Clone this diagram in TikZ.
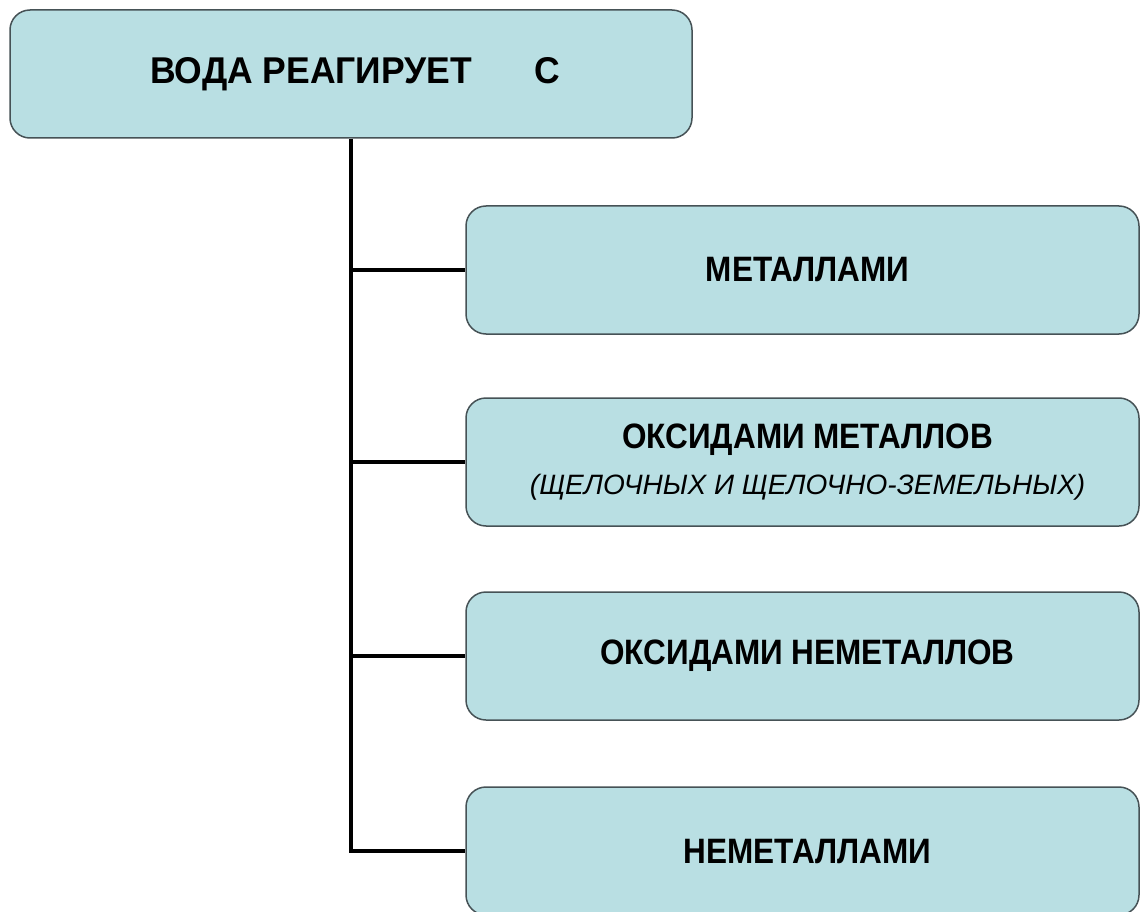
\documentclass[tikz,border=0pt]{standalone}
\usepackage{fontspec}
\usepackage{graphicx}
\setmainfont{Liberation Sans}
\definecolor{boxfill}{RGB}{185,223,227}
\definecolor{boxline}{RGB}{70,82,86}
\newcommand\sidetext[1]{\hspace*{10pt}\scalebox{1}[1.12]{\fontsize{31.5}{38}\selectfont\bfseries #1}}
\newcommand\toptext[1]{\scalebox{1}[1.05]{\fontsize{35.5}{42}\selectfont\bfseries #1}}
\begin{document}
\begin{tikzpicture}[x=1pt,y=-1pt,
  box/.style={draw=boxline,line width=1.5pt,fill=boxfill,rounded corners=20pt,
    inner sep=0pt,align=center,text=black},
  topbox/.style={box,minimum width=682pt,minimum height=128pt},
  sidebox/.style={box,minimum width=673pt,minimum height=128pt},
  conn/.style={line width=4.5pt,black}]
\useasboundingbox (0,0) rectangle (1140,912);
\fill[white] (0,0) rectangle (1140,912);
\node[topbox] (top) at (351,74) {\hspace*{8pt}\toptext{ВОДА РЕАГИРУЕТ\hspace{62pt}С}};
\node[sidebox] (b1) at (802.5,270) {\sidetext{МЕТАЛЛАМИ}};
\node[sidebox] (b2) at (802.5,462) {\sidetext{ОКСИДАМИ МЕТАЛЛОВ}\\[17pt]\hspace*{10pt}{\fontsize{28}{32}\selectfont\itshape (ЩЕЛОЧНЫХ И ЩЕЛОЧНО-ЗЕМЕЛЬНЫХ)}};
\node[sidebox] (b3) at (802.5,656) {\sidetext{ОКСИДАМИ НЕМЕТАЛЛОВ}};
\node[sidebox] (b4) at (802.5,851) {\sidetext{НЕМЕТАЛЛАМИ}};
\draw[conn] (top.south) |- (b4.west);
\draw[conn] (top.south |- b1.west) -- (b1.west);
\draw[conn] (top.south |- b2.west) -- (b2.west);
\draw[conn] (top.south |- b3.west) -- (b3.west);
\end{tikzpicture}
\end{document}
